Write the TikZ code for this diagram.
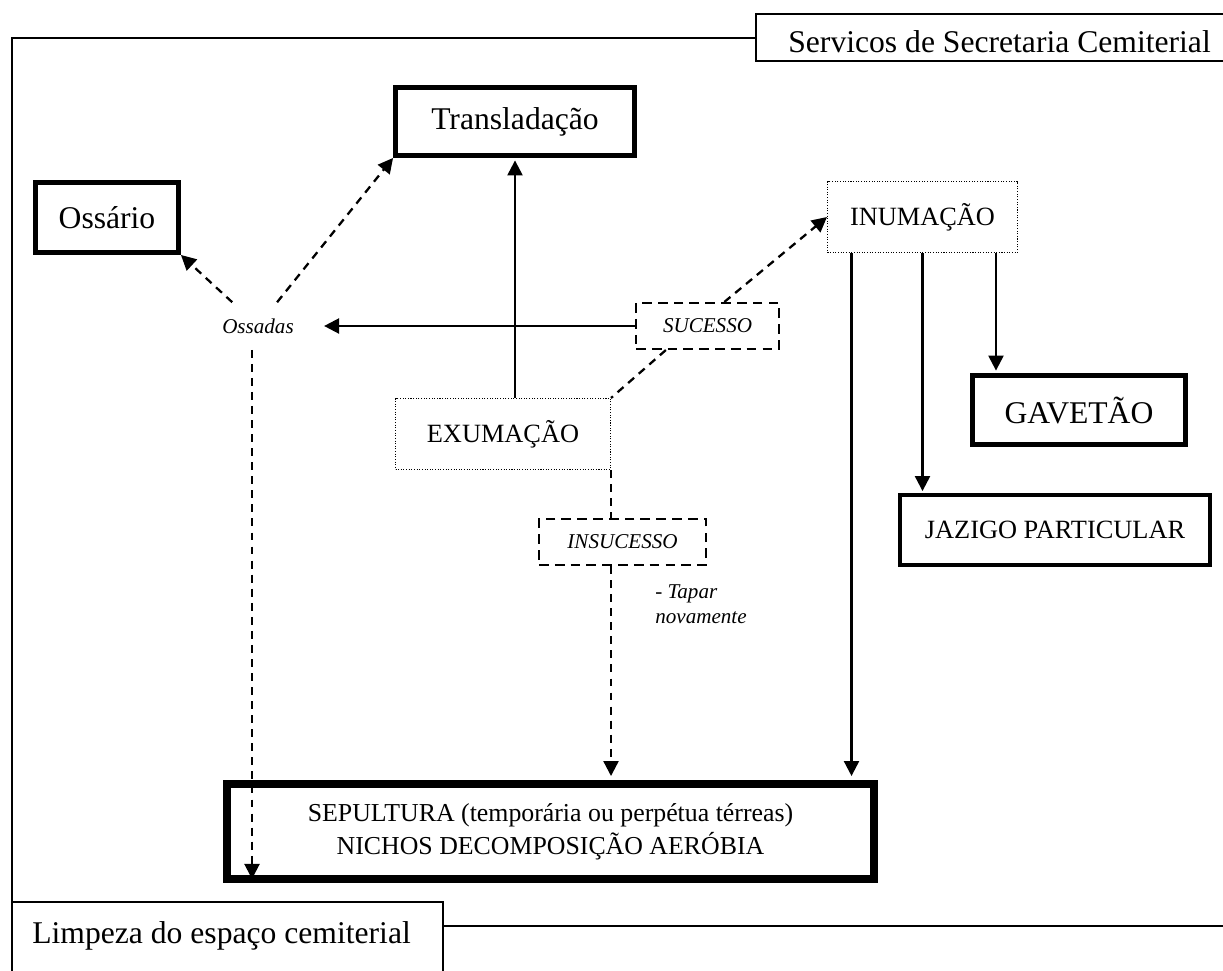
\documentclass[tikz,border=0pt]{standalone}
\usepackage{fontspec}
\setmainfont{Liberation Serif}
\usepackage{tikz}
\usetikzlibrary{arrows.meta}

\begin{document}
\begin{tikzpicture}[x=0.02cm,y=-0.02cm]
          \tikzset{
            ThickBox/.style = { rectangle, draw, line width=2.8pt, inner sep=0pt,
              font = \fontsize{18}{21}\selectfont },
            DottedBox/.style = { rectangle, draw, line width=0.6pt,
              dash pattern=on 0.6pt off 0.9pt, inner sep=0pt,
              font = \fontsize{15}{18}\selectfont },
            DashedBox/.style = { rectangle, draw, line width=1.2pt,
              dash pattern=on 5.5pt off 3.5pt, inner sep=0pt,
              font = \fontsize{12}{14.2}\selectfont\itshape },
            Link/.style = { line width=1.3pt, -{Triangle[length=0.3cm,width=0.3cm]} },
            DashedLink/.style = { Link, dash pattern=on 4.5pt off 3.5pt },
            DashedLine/.style = { line width=1.3pt, dash pattern=on 4.5pt off 3.5pt },
            FrameLine/.style = { line width=1.1pt } }
          \useasboundingbox (0,0) rectangle (1223,970);

          % moldura e titulos
          \draw[FrameLine] (756,14) rectangle (1260,61);
          \node[anchor=base west, inner sep=0pt, font=\fontsize{18}{21}\selectfont]
            (SERVICOS) at (788,52) {Servicos de Secretaria Cemiterial};
          \draw[FrameLine] (756,38) -- (12,38) -- (12,902);
          \draw[FrameLine] (12,1000) -- (12,902) -- (443,902) -- (443,1000);
          \draw[FrameLine] (443,926) -- (1240,926);
          \node[anchor=base west, inner sep=0pt, font=\fontsize{18}{21}\selectfont]
            (LIMPEZA) at (32,943) {Limpeza do espaço cemiterial};

          \node[ThickBox, minimum width=4.78cm, minimum height=1.36cm] (TRANSLADACAO) at (515,121.5) {Transladação};
          \node[ThickBox, minimum width=2.86cm, minimum height=1.40cm] (OSSARIO) at (107,217.5) {Ossário};
          \node[DottedBox, minimum width=3.80cm, minimum height=1.42cm] (INUMACAO) at (922.5,217) {INUMAÇÃO};
          \node[DashedBox, minimum width=2.86cm, minimum height=0.92cm] (SUCESSO) at (707.5,326) {SUCESSO};
          \node[DottedBox, minimum width=4.30cm, minimum height=1.42cm] (EXUMACAO) at (503,434) {EXUMAÇÃO};
          \node[DashedBox, minimum width=3.34cm, minimum height=0.92cm] (INSUCESSO) at (622.5,542) {INSUCESSO};
          \node[ThickBox, minimum width=4.26cm, minimum height=1.38cm] (GAVETAO) at (1079,410) {GAVETÃO};
          \node[ThickBox, line width=2.3pt, font=\fontsize{15}{18}\selectfont,
            minimum width=6.20cm, minimum height=1.40cm] (JAZIGO) at (1055,530) {JAZIGO PARTICULAR};
          \node[ThickBox, line width=4.5pt, font=\fontsize{14.7}{18.7}\selectfont, align=center,
            minimum width=12.94cm, minimum height=1.90cm] (SEPULTURA) at (550.5,831.5)
            {SEPULTURA (temporária ou perpétua térreas)\\NICHOS DECOMPOSIÇÃO AERÓBIA};
          \node[font=\fontsize{12}{14.2}\selectfont\itshape, inner xsep=0.6cm, inner ysep=0.32cm]
            (OSSADAS) at (258,326) {Ossadas};
          \node[anchor=north west, inner sep=0pt, align=left, font=\fontsize{12}{14.2}\selectfont\itshape]
            (TAPAR) at (655,584) {- Tapar\\novamente};

          \coordinate (ossdown) at ([xshift=-0.12cm]OSSADAS.south);
          \coordinate (inumA) at ([xshift=-1.42cm]INUMACAO.south);
          \coordinate (inumB) at ([xshift=1.47cm]INUMACAO.south);

          \draw[Link, shorten >=1.4pt] (EXUMACAO.north -| TRANSLADACAO.south) -- (TRANSLADACAO.south);
          \draw[Link] (SUCESSO.west) -- (OSSADAS.east);
          \draw[DashedLink] (OSSADAS) -- (OSSARIO.south east);
          \draw[DashedLink] (OSSADAS) -- (TRANSLADACAO.south west);
          \draw[DashedLink, shorten >=2.3pt] (ossdown) -- (ossdown |- SEPULTURA.south);
          \draw[DashedLink] (SUCESSO.55) -- (INUMACAO.west);
          \draw[DashedLine] (SUCESSO.210) -- (EXUMACAO.north east);
          \draw[DashedLine] (EXUMACAO.south east) -- (EXUMACAO.south east |- INSUCESSO.north);
          \draw[DashedLink, shorten >=2.3pt] (EXUMACAO.south east |- INSUCESSO.south) -- (EXUMACAO.south east |- SEPULTURA.north);

          % saidas da inumacao
          \draw[Link, shorten >=2.3pt] (inumA) -- (inumA |- SEPULTURA.north);
          \draw[Link, shorten >=1.1pt] (INUMACAO.south) -- (INUMACAO.south |- JAZIGO.north);
          \draw[Link, shorten >=1.4pt] (inumB) -- (inumB |- GAVETAO.north);
          % \draw[Link] (INUMACAO) -- (SEPULTURA);
\end{tikzpicture}
\end{document}
